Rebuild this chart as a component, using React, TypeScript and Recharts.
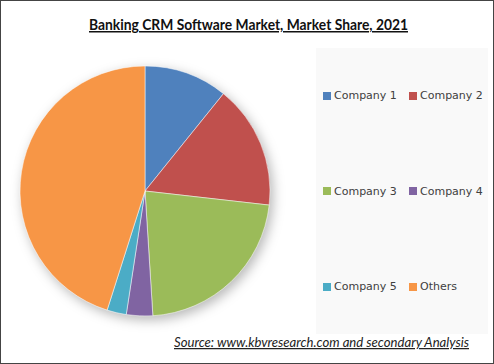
import React from 'react';
import { PieChart, Pie, Cell, Legend } from 'recharts';

const companies = ['Company 1', 'Company 2', 'Company 3', 'Company 4', 'Company 5', 'Others'];
const shares = [10.8, 16.0, 22.2, 3.4, 2.5, 45.1];
const colors = ['#4f81bd', '#c0504d', '#9bbb59', '#8064a2', '#4bacc6', '#f79646'];

const data = companies.map((name, i) => ({ name, value: shares[i] }));

const LegendGrid = ({ payload }: any) => {
  const items = payload || [];
  return (
    <div style={{ position: 'relative', width: 170, height: 240 }}>
      {items.map((entry: any, i: number) => {
        const col = i % 2;
        const row = Math.floor(i / 2);
        return (
          <div
            key={`leg-${i}`}
            style={{
              position: 'absolute',
              left: col * 86,
              top: row * 95.5,
              display: 'flex',
              alignItems: 'center',
              fontFamily: 'Verdana, "DejaVu Sans", sans-serif',
              fontSize: 11,
              color: '#404040',
              whiteSpace: 'nowrap',
            }}
          >
            <span style={{ width: 8, height: 8, background: entry.color, marginRight: 3, display: 'inline-block' }} />
            {entry.value}
          </div>
        );
      })}
    </div>
  );
};

export default function App() {
  return (
    <div
      style={{
        position: 'fixed',
        left: 0,
        top: 0,
        width: 494,
        height: 364,
        boxSizing: 'border-box',
        border: '1px solid #444',
        background: '#fff',
        overflow: 'hidden',
      }}
    >
      <style>{`.recharts-pie { filter: drop-shadow(3px 4px 6px rgba(0,0,0,0.28)); }`}</style>
      <div style={{ position: 'absolute', left: 315, top: 47, width: 172, height: 286, background: '#f9f9f9' }} />
      <div style={{ position: 'absolute', left: -1, top: -1 }}>
        <PieChart width={494} height={364} margin={{ top: 0, right: 0, bottom: 0, left: 0 }}>
          <Pie
            data={data}
            dataKey="value"
            nameKey="name"
            cx={145}
            cy={191}
            outerRadius={125}
            startAngle={90}
            endAngle={-270}
            stroke="#ffffff"
            strokeWidth={0.5}
            isAnimationActive={false}
          >
            {data.map((d, i) => (
              <Cell key={`cell-${i}`} fill={colors[i]} />
            ))}
          </Pie>
          <Legend
            content={<LegendGrid />}
            wrapperStyle={{ position: 'absolute', left: 323, top: 89, width: 170, height: 240 }}
          />
        </PieChart>
      </div>
      <svg width={494} height={364} style={{ position: 'absolute', left: -1, top: -1, pointerEvents: 'none' }}>
        <text
          x={89}
          y={30}
          textLength={319}
          lengthAdjust="spacingAndGlyphs"
          fontFamily="Lato, 'Open Sans', sans-serif"
          fontWeight="bold"
          fontSize={15}
          fill="#111"
          textDecoration="underline"
        >
          Banking CRM Software Market, Market Share, 2021
        </text>
        <text
          x={174}
          y={347}
          textLength={295}
          lengthAdjust="spacingAndGlyphs"
          fontFamily="Lato, 'Open Sans', sans-serif"
          fontStyle="italic"
          fontSize={12.5}
          fill="#222"
          textDecoration="underline"
        >
          Source:  www.kbvresearch.com   and secondary Analysis
        </text>
      </svg>
    </div>
  );
}
